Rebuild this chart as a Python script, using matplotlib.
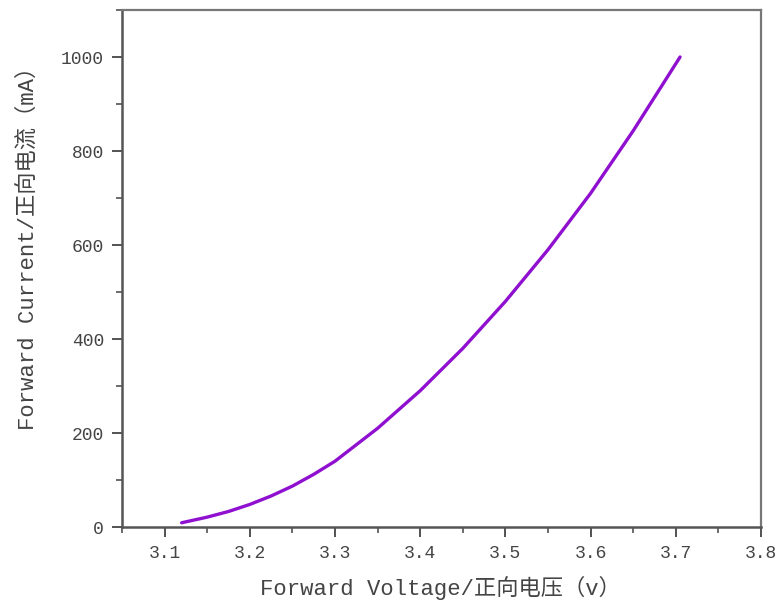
import matplotlib
matplotlib.use('Agg')
import matplotlib.pyplot as plt
from matplotlib.ticker import MultipleLocator

plt.rcParams['font.family'] = ['Liberation Mono', 'Noto Sans CJK SC', 'DejaVu Sans']

# forward voltage (V) vs forward current (mA)
voltage = [3.12, 3.15, 3.175, 3.2, 3.225, 3.25, 3.275, 3.3, 3.35, 3.4, 3.45,
           3.5, 3.55, 3.6, 3.65, 3.705]
current = [9, 21, 33, 48, 66, 87, 112, 140, 210, 290, 380,
           480, 590, 710, 843, 1000]

x_ticks = [3.1, 3.2, 3.3, 3.4, 3.5, 3.6, 3.7, 3.8]
y_ticks = [0, 200, 400, 600, 800, 1000]
x_label = 'Forward Voltage/正向电压（v）'
y_label = 'Forward Current/正向电流（mA）'

W, H = 782, 606
fig = plt.figure(figsize=(W / 100, H / 100), dpi=100)
ax = fig.add_axes([122 / W, 1 - 527 / H, 639 / W, 517 / H])

ax.plot(voltage, current, color='#9010d0', linewidth=2.4, solid_capstyle='round')

ax.set_xlim(3.05, 3.8)
ax.set_ylim(0, 1100)
ax.set_xticks(x_ticks)
ax.set_xticklabels(['%.1f' % v for v in x_ticks])
ax.set_yticks(y_ticks)
ax.xaxis.set_minor_locator(MultipleLocator(0.05))
ax.yaxis.set_minor_locator(MultipleLocator(100))

text_color = '#444444'
ax.tick_params(which='major', direction='out', length=7, width=1.3,
               color='#444444', labelsize=13, labelcolor=text_color, pad=6)
ax.tick_params(which='minor', direction='out', length=4, width=1.1, color='#444444')
ax.tick_params(top=False, right=False, which='both')

for side in ['left', 'bottom']:
    ax.spines[side].set_linewidth(1.8)
    ax.spines[side].set_color('#555555')
for side in ['top', 'right']:
    ax.spines[side].set_linewidth(1.6)
    ax.spines[side].set_color('#777777')

fig.text(440 / W, 1 - 588 / H, x_label, fontsize=16, color=text_color,
         ha='center', va='center')
fig.text(28 / W, 1 - 243 / H, y_label, fontsize=16, color=text_color,
         ha='center', va='center', rotation=90)

fig.savefig('out.png', dpi=100)
